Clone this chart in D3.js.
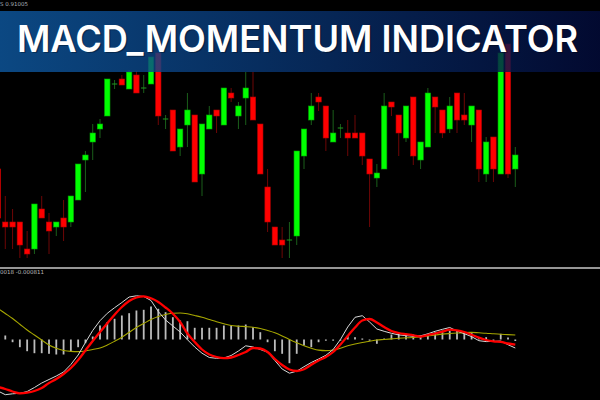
<!DOCTYPE html>
<html><head><meta charset="utf-8">
<script src="https://cdn.jsdelivr.net/npm/d3@7"></script>
<style>html,body{margin:0;padding:0;background:#000;overflow:hidden}</style>
</head><body><svg id="c" width="600" height="400"></svg>
<script>
// Price candles (points above chart base)
const openP  = [101,48,48,48,21,21,61,48,43,52,48,70,110,128,141,154,186,191,181,195,182,186,217,151,160,123,145,155,96,141,160,145,177,154,172,173,146,83,43,30,30,34,114,150,173,164,128,142,137,137,137,111,92,101,168,155,132,173,110,123,173,160,141,177,155,145,160,96,133,96,226,101];
const highP  = [105,74,61,48,39,66,74,57,48,70,74,106,119,146,151,191,190,195,200,199,195,213,217,155,160,141,177,155,146,164,160,182,182,168,198,198,146,101,43,43,48,119,141,177,177,164,160,146,150,155,137,111,106,177,168,155,164,173,128,182,173,160,173,177,177,164,160,133,133,217,226,123];
const lowP   = [50,21,21,12,12,16,52,16,34,29,43,70,78,110,132,154,181,185,181,177,177,186,145,141,119,114,123,88,74,141,137,145,168,141,145,150,96,38,25,12,12,25,101,145,159,119,128,132,114,132,105,43,83,101,154,114,128,105,101,123,137,132,137,137,145,128,88,88,88,96,92,83];
const closeP = [52,43,43,25,16,66,52,39,48,43,74,106,115,137,146,191,186,185,198,177,182,213,154,151,119,141,160,88,146,155,154,182,172,164,182,150,96,48,25,25,30,119,141,164,168,132,137,142,132,132,114,96,97,164,163,137,164,114,128,177,163,137,164,150,150,164,101,128,101,217,96,115];

// Oscillator panel (x1e-5)
const macdLine   = [-51.5,-55.2,-54.3,-53.8,-52,-48,-43.5,-40,-36.5,-32.5,-25,-15.5,-3,9,18.8,26.2,31.8,37,42.5,43.7,43,39,28,19.5,13.5,7.5,-0.2,-7.5,-13.7,-18,-18.8,-18.5,-16,-11.5,-6.3,-7.5,-10,-12.7,-21,-29.5,-33.7,-31.7,-27.2,-23,-19.5,-15.8,-10,0,12.5,22.2,23.8,17.5,10.5,8.2,6.2,4.6,3.9,3.2,3.7,5.7,8.2,10.2,12,8.5,5.8,2.9,-1.2,-2.1,-1.9,-1.5,-5.2,-8.5];
const signalLine = [-47.5,-49.5,-52,-53.8,-53.2,-51.5,-48.5,-43.5,-39.5,-34.5,-28.5,-20.5,-11,-1.5,7.5,16.2,24.8,32.5,38.5,42,43.2,41.2,37.5,32,25.8,17.5,6,-2.5,-10,-15,-17.5,-18.7,-18,-15.5,-12.5,-8.5,-9,-12.5,-19.5,-25.5,-30,-31.5,-29.8,-25.2,-21,-17.5,-12.5,-5,3.5,12,19,20.5,17,12.5,8.5,6.5,5.3,4.2,2.9,4.5,6,7.8,9.8,9.1,7.5,4.8,1.9,-0.5,-1.9,-2.4,-4,-5.2];
const slowLine   = [31,26,21,15.3,9.5,4.5,-0.5,-5.5,-8.8,-11,-11.9,-12.1,-11.5,-10,-8.5,-5.5,-1.8,2.2,7.2,12,16,20,23,25,26.3,26.5,25.7,24,22.2,20,17.8,15.8,14,13.3,12.9,12.3,11,9,6.7,3.6,0,-3.3,-6.3,-8.7,-10.6,-11.1,-10.5,-8.7,-6.3,-4.5,-3,-1.8,-0.5,0,0.6,1.2,1.7,2,2.7,3.5,4.5,5.4,6,6.5,6.9,7.1,6.7,6.3,5.7,5.2,4.9,4.5];
const histValues = [6,4,-2.7,-7.7,-11.7,-13.7,-13.7,-14.3,-15,-15,-11.7,-7.7,-3.7,3,14,17.3,20.7,24,26.3,29,29.7,33,30.7,27.3,22.3,19,18.3,11.7,11.7,11.7,11.7,14,14,14,15,12.3,7.3,-2.7,-11.7,-14.3,-23.7,-14.3,-6,-7.7,-2.7,-1,-0.7,-0.7,4,2.3,1,-1,-4.3,1,5,5.7,5.7,5,4,5.7,7.3,9,9,9,7.3,7.3,2.3,2.3,-1.7,5.7,2,-1.5];

const titleText = "MACD_MOMENTUM INDICATOR";
const priceLabel = "S 0.91005";
const oscLabel = "0018 -0.000811";

const svg = d3.select("#c");
svg.append("rect").attr("width",600).attr("height",400).attr("fill","#000");

const n = openP.length;
const x = d3.scaleLinear().domain([0, n-1]).range([-2, 515.3]);
const yP = d3.scaleLinear().domain([0, 230]).range([270, 40]);
const yM = d3.scaleLinear().domain([-60, 70]).range([399.5, 269.5]);
const bodyW = 5.4;

const candles = d3.range(n).map(i => ({i, o:openP[i], h:highP[i], l:lowP[i], c:closeP[i]}));
const up = d => d.c >= d.o;

const cg = svg.append("g");
cg.selectAll("line.wick").data(candles).join("line")
  .attr("x1", d => x(d.i)).attr("x2", d => x(d.i))
  .attr("y1", d => yP(d.h)).attr("y2", d => yP(d.l))
  .attr("stroke", d => up(d) ? "#1a5e1a" : "#6e0606").attr("stroke-width", 1);
cg.selectAll("rect.body").data(candles.filter(d => d.c !== d.o)).join("rect")
  .attr("x", d => x(d.i) - bodyW/2)
  .attr("y", d => yP(Math.max(d.o, d.c)))
  .attr("width", bodyW)
  .attr("height", d => Math.abs(yP(d.o) - yP(d.c)))
  .attr("fill", d => up(d) ? "#00ff00" : "#ff0000")
  .attr("stroke", d => up(d) ? "#00a800" : "#b00000").attr("stroke-width", 0.6);
cg.selectAll("line.doji").data(candles.filter(d => d.c === d.o)).join("line")
  .attr("x1", d => x(d.i) - bodyW/2).attr("x2", d => x(d.i) + bodyW/2)
  .attr("y1", d => yP(d.o)).attr("y2", d => yP(d.o))
  .attr("stroke", "#1f9a1f").attr("stroke-width", 1);

// separator
svg.append("line").attr("x1",0).attr("x2",600).attr("y1",268).attr("y2",268)
  .attr("stroke","#c8c8c8").attr("stroke-width",1.6);

// histogram
const hg = svg.append("g");
hg.selectAll("rect").data(histValues.map((v,i)=>({i,v}))).join("rect")
  .attr("x", d => x(d.i) - 0.9).attr("width", 1.8)
  .attr("y", d => yM(Math.max(0, d.v)))
  .attr("height", d => Math.max(1.2, Math.abs(yM(d.v) - yM(0))))
  .attr("fill", "#bcbcbc");

const lineGen = (arr, curve) => d3.line().x((d,i)=>x(i)).y(d=>yM(d)).curve(curve)(arr);
svg.append("path").attr("d", lineGen(slowLine, d3.curveMonotoneX))
  .attr("fill","none").attr("stroke","#a6a600").attr("stroke-width",1.1);
svg.append("path").attr("d", lineGen(macdLine, d3.curveLinear))
  .attr("fill","none").attr("stroke","#d8d8d8").attr("stroke-width",1);
svg.append("path").attr("d", lineGen(signalLine, d3.curveMonotoneX))
  .attr("fill","none").attr("stroke","#ff0000").attr("stroke-width",2.3);

// labels
svg.append("text").attr("x",0).attr("y",5.5).attr("fill","#a9b0b8")
  .attr("font-family","DejaVu Sans").attr("font-size",5.5).text(priceLabel);
svg.append("text").attr("x",0).attr("y",274).attr("fill","#b8b8b8")
  .attr("font-family","DejaVu Sans").attr("font-size",5.5).text(oscLabel);

// banner
const defs = svg.append("defs");
const grad = defs.append("linearGradient").attr("id","bg").attr("x1","0").attr("x2","1").attr("y1","0").attr("y2","0");
grad.append("stop").attr("offset","0").attr("stop-color","#0e5aa3");
grad.append("stop").attr("offset","0.5").attr("stop-color","#08336f");
grad.append("stop").attr("offset","1").attr("stop-color","#030c3c");
svg.append("rect").attr("x",0).attr("y",11).attr("width",600).attr("height",61)
  .attr("fill","url(#bg)").attr("opacity",0.8);
svg.append("text").attr("x",18.5).attr("y",53).attr("fill","#000").attr("opacity",0.3)
  .attr("font-family","Inter").attr("font-weight",600).attr("font-size",37)
  .attr("textLength",561).attr("lengthAdjust","spacingAndGlyphs").text(titleText);
svg.append("text").attr("x",17).attr("y",51.7).attr("fill","#ffffff")
  .attr("font-family","Inter").attr("font-weight",600).attr("font-size",37)
  .attr("textLength",561).attr("lengthAdjust","spacingAndGlyphs").text(titleText);
</script></body></html>
